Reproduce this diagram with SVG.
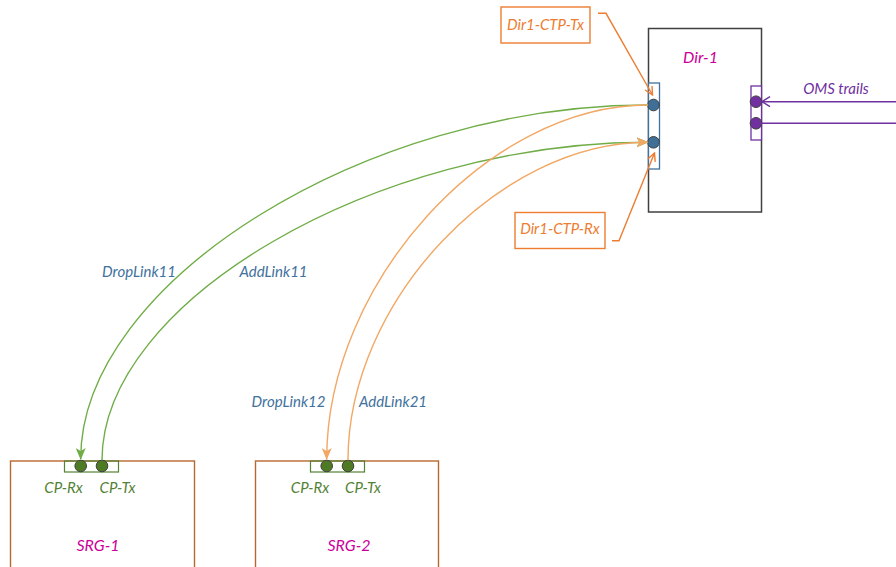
<svg xmlns="http://www.w3.org/2000/svg" width="896" height="567" viewBox="0 0 896 567">
<defs>
<style>
text{font-family:Lato,"Liberation Sans",sans-serif;font-style:italic;font-size:15px;text-anchor:middle}
.title{fill:#CC0099;font-size:16px}
.lbl{fill:#41719C}
.cp{fill:#548235}
.callout{fill:#ED7D31}
.omsl{fill:#7030A0}
.box{fill:#fff}
.link{fill:none;stroke-width:1.4}
.green{stroke:#70AD47}
.orange{stroke:#F2A865}
.pc{stroke:#404040;stroke-width:1}
</style>
<marker id="ag" markerUnits="userSpaceOnUse" viewBox="0 0 12 10" refX="11" refY="5" markerWidth="12" markerHeight="10" orient="auto">
<path d="M0,0 L12,5 L0,10 L3,5 Z" fill="#70AD47"/>
</marker>
<marker id="ao" markerUnits="userSpaceOnUse" viewBox="0 0 12 10" refX="11" refY="5" markerWidth="12" markerHeight="10" orient="auto">
<path d="M0,0 L12,5 L0,10 L3,5 Z" fill="#F2A865"/>
</marker>
<marker id="ac" markerUnits="userSpaceOnUse" viewBox="0 0 10 10" refX="9" refY="5" markerWidth="10" markerHeight="10" orient="auto">
<path d="M1,1 L9,5 L1,9" fill="none" stroke="#ED7D31" stroke-width="1.4"/>
</marker>
<marker id="ap" markerUnits="userSpaceOnUse" viewBox="0 0 10 12" refX="9" refY="6" markerWidth="10" markerHeight="12" orient="auto">
<path d="M1,1 L9,6 L1,11" fill="none" stroke="#7030A0" stroke-width="1.4"/>
</marker>
</defs>
<rect width="896" height="567" fill="#fff"/>

<g id="srg1">
<rect x="10.5" y="461" width="184" height="130" class="box" stroke="#B8682E" stroke-width="1.4"/>
<rect x="64.5" y="461" width="54" height="11" fill="none" stroke="#548235" stroke-width="1.2"/>
<circle cx="80.7" cy="466" r="5.8" fill="#4E7A23" class="pc"/>
<circle cx="102" cy="466" r="5.8" fill="#4E7A23" class="pc"/>
<text x="63.5" y="493" class="cp">CP-Rx</text>
<text x="117.5" y="493" class="cp">CP-Tx</text>
<text x="98" y="551" class="title">SRG-1</text>
</g>

<g id="srg2">
<rect x="255.5" y="461" width="183" height="130" class="box" stroke="#B8682E" stroke-width="1.4"/>
<rect x="310.5" y="461" width="54" height="11" fill="none" stroke="#548235" stroke-width="1.2"/>
<circle cx="326.7" cy="466" r="5.8" fill="#4E7A23" class="pc"/>
<circle cx="348" cy="466" r="5.8" fill="#4E7A23" class="pc"/>
<text x="310" y="493" class="cp">CP-Rx</text>
<text x="363" y="493" class="cp">CP-Tx</text>
<text x="349" y="551" class="title">SRG-2</text>
</g>

<g id="dir1">
<rect x="648.5" y="28.5" width="113" height="183.5" class="box" stroke="#404040" stroke-width="1.5"/>
<text x="700.5" y="63" class="title">Dir-1</text>
<rect x="648.5" y="83" width="11" height="86" fill="#fff" stroke="#41719C" stroke-width="1.3"/>
<circle cx="653.5" cy="105" r="5.8" fill="#3F6E96" class="pc"/>
<circle cx="653.5" cy="142.3" r="5.8" fill="#3F6E96" class="pc"/>
<rect x="751" y="86" width="10.5" height="54" fill="#fff" stroke="#7030A0" stroke-width="1.3"/>
<circle cx="756" cy="101.7" r="5.8" fill="#7030A0" class="pc"/>
<circle cx="756" cy="123.3" r="5.8" fill="#7030A0" class="pc"/>
</g>

<g id="callout-tx">
<rect x="501" y="7" width="89" height="36" fill="#fff" stroke="#ED7D31" stroke-width="1.4"/>
<text x="545.5" y="30" class="callout">Dir1-CTP-Tx</text>
</g>
<g id="callout-rx">
<rect x="515" y="212.5" width="90" height="36" fill="#fff" stroke="#ED7D31" stroke-width="1.4"/>
<text x="560" y="233.5" class="callout">Dir1-CTP-Rx</text>
</g>

<g id="connectors">
<path d="M648,105 C364.5,105 80.7,283 80.7,459" class="link green" marker-end="url(#ag)"/>
<path d="M102,460.2 C102,301.5 375,142.3 647.5,142.3" class="link green" marker-end="url(#ag)"/>
<path d="M648,105 C487.5,105 326.7,283 326.7,459" class="link orange" marker-end="url(#ao)"/>
<path d="M348,460.2 C348,301.5 498,142.3 647.5,142.3" class="link orange" marker-end="url(#ao)"/>
<polyline points="598,13.3 606,13.3 652.5,95" fill="none" stroke="#ED7D31" stroke-width="1.4" marker-end="url(#ac)"/>
<polyline points="612,240.7 619,240.7 654.5,153" fill="none" stroke="#ED7D31" stroke-width="1.4" marker-end="url(#ac)"/>
<line x1="896" y1="101.7" x2="762" y2="101.7" stroke="#7030A0" stroke-width="1.4" marker-end="url(#ap)"/>
<line x1="896" y1="123.3" x2="761" y2="123.3" stroke="#7030A0" stroke-width="1.4"/>
<text x="836" y="93.5" class="omsl">OMS trails</text>
<text x="139" y="277" class="lbl">DropLink11</text>
<text x="273.5" y="277" class="lbl">AddLink11</text>
<text x="288.5" y="407" class="lbl">DropLink12</text>
<text x="393" y="407" class="lbl">AddLink21</text>
</g>
</svg>
